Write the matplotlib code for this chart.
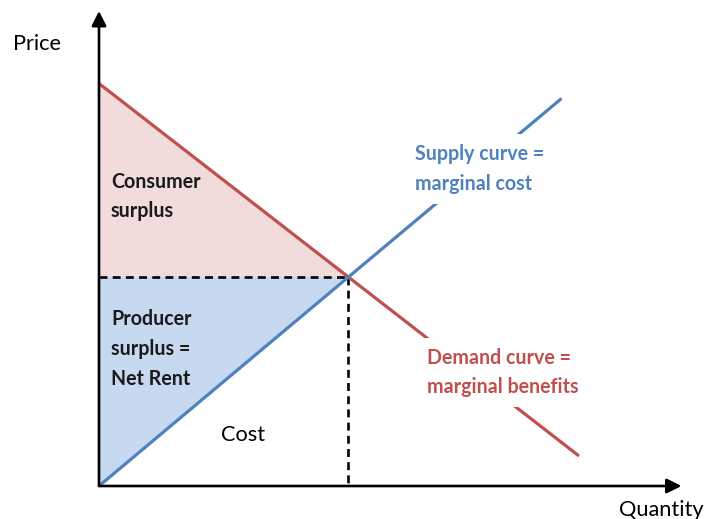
import numpy as np
import matplotlib
matplotlib.use("Agg")
import matplotlib.pyplot as plt

plt.rcParams["font.family"] = ["Lato", "DejaVu Sans"]

# Kurven (Menge, Preis) in Diagramm-Einheiten
demand_q = [0.0, 9.6]
demand_p = [8.05, 0.6]
supply_q = [0.0, 9.25]
supply_p = [0.0, 7.75]

# Achsen-Enden (Pfeilspitzen)
x_axis_end = 11.65
y_axis_end = 9.5

BLUE = "#4F81BD"
RED = "#C0504D"
FILL_RED = "#F2DCDB"
FILL_BLUE = "#C6D9F1"

# Gleichgewicht = Schnittpunkt der Geraden
dm = (demand_p[1] - demand_p[0]) / (demand_q[1] - demand_q[0])
sm = (supply_p[1] - supply_p[0]) / (supply_q[1] - supply_q[0])
q_eq = (demand_p[0] - supply_p[0]) / (sm - dm)
p_eq = supply_p[0] + sm * q_eq

fig = plt.figure(figsize=(7.04, 5.19), dpi=100)
ax = fig.add_axes([0, 0, 1, 1])
ax.set_xlim(-1.98, 12.1)
ax.set_ylim(-0.66, 9.72)
ax.axis("off")

# Flächen
ax.fill([0, 0, q_eq], [demand_p[0], p_eq, p_eq], color=FILL_RED, lw=0, zorder=1)
ax.fill([0, 0, q_eq], [supply_p[0], p_eq, p_eq], color=FILL_BLUE, lw=0, zorder=1)

# Gestrichelte Hilfslinien
ax.plot([0, q_eq], [p_eq, p_eq], color="black", lw=1.9, ls=(0, (3, 2)), zorder=2)
ax.plot([q_eq, q_eq], [p_eq, 0], color="black", lw=1.9, ls=(0, (3, 2)), zorder=2)

# Kurven
ax.plot(demand_q, demand_p, color=RED, lw=2.3, zorder=3, solid_capstyle="butt")
ax.plot(supply_q, supply_p, color=BLUE, lw=2.3, zorder=3, solid_capstyle="butt")

# Achsen mit Pfeilen
arrow = dict(arrowstyle="-|>", color="black", lw=1.9, mutation_scale=22, shrinkA=0, shrinkB=0)
ax.annotate("", xy=(x_axis_end, 0), xytext=(0, 0), arrowprops=arrow, zorder=5)
ax.annotate("", xy=(0, y_axis_end), xytext=(0, 0), arrowprops=arrow, zorder=5)

fs = 15.7   # normal
fb = 14.1   # fett
ls = 1.62
ax.text(-1.24, 8.84, "Price", fontsize=fs, ha="center", va="center")
ax.text(11.24, -0.48, "Quantity", fontsize=fs, ha="center", va="center")
ax.text(0.24, 5.79, "Consumer\nsurplus", fontsize=fb, fontweight="bold",
        ha="left", va="center", linespacing=ls, color="#1a1a1a", zorder=4)
ax.text(0.24, 2.74, "Producer\nsurplus =\nNet Rent", fontsize=fb, fontweight="bold",
        ha="left", va="center", linespacing=ls, color="#1a1a1a", zorder=4)
ax.text(2.88, 1.02, "Cost", fontsize=fs, ha="center", va="center", zorder=4)

box = dict(boxstyle="square,pad=0.5", facecolor="white", edgecolor="none")
ax.text(6.32, 6.34, "Supply curve =\nmarginal cost", fontsize=fb, fontweight="bold",
        ha="left", va="center", linespacing=ls, color=BLUE, bbox=box, zorder=4)
ax.text(6.56, 2.27, "Demand curve =\nmarginal benefits", fontsize=fb, fontweight="bold",
        ha="left", va="center", linespacing=ls, color=RED, bbox=box, zorder=4)

plt.savefig("out.png", dpi=100, facecolor="white")
